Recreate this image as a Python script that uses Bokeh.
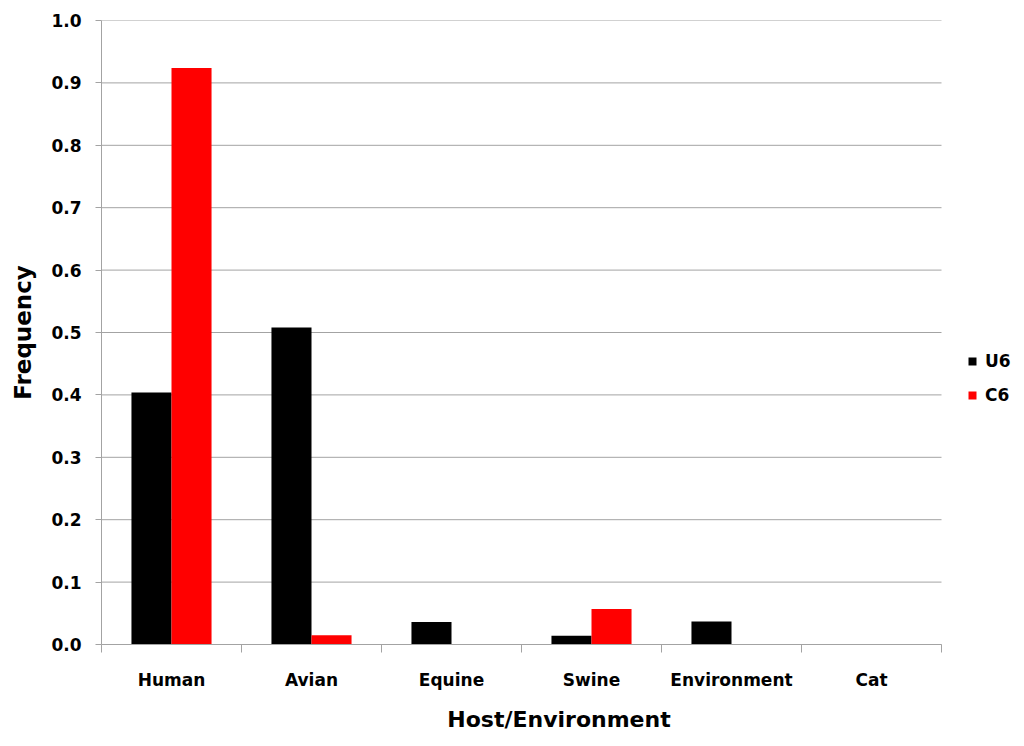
from bokeh.plotting import figure
from bokeh.models import (Range1d, LinearAxis, FixedTicker,
                          PrintfTickFormatter, Legend, LegendItem, ColumnDataSource, CustomJSTickFormatter)
from bokeh.transform import dodge
from bokeh.embed import file_html
from bokeh.resources import INLINE

categories = ["Human", "Avian", "Equine", "Swine", "Environment", "Cat"]
u6 = [0.404, 0.508, 0.036, 0.014, 0.037, 0.0]
c6 = [0.924, 0.015, 0.0, 0.057, 0.0, 0.0]
y_ticks = [0.0, 0.1, 0.2, 0.3, 0.4, 0.5, 0.6, 0.7, 0.8, 0.9, 1.0]

FONT = "DejaVu Sans"
GRAY = "#a3a3a3"

W, H = 1016, 738
LEFT, TOP, BOTTOM = 101, 20, 94
PX_PER_CAT = 140

n = len(categories)
centers = [i + 0.5 for i in range(n)]
src = ColumnDataSource(dict(x=centers, cat=categories, u6=u6, c6=c6))
grid_src = ColumnDataSource(dict(y=y_ticks, x0=[0] * len(y_ticks), x1=[n] * len(y_ticks)))

p = figure(width=W, height=H, output_backend="svg", toolbar_location=None,
           x_range=Range1d(0, (W - LEFT) / PX_PER_CAT), y_range=Range1d(0, 1.0),
           x_axis_location=None, y_axis_location=None,
           min_border_left=LEFT, min_border_top=TOP, min_border_right=0, min_border_bottom=BOTTOM)
p.outline_line_color = None
p.background_fill_color = "white"
p.border_fill_color = "white"
p.xgrid.grid_line_color = None
p.ygrid.grid_line_color = None

# horizontal gridlines limited to the category span
p.segment(x0="x0", x1="x1", y0="y", y1="y", source=grid_src, line_color=GRAY, line_width=1)

r1 = p.vbar(x=dodge("x", -0.143), top="u6", width=0.286, source=src,
            fill_color="black", line_color=None)
r2 = p.vbar(x=dodge("x", 0.143), top="c6", width=0.286, source=src,
            fill_color="#ff0000", line_color=None)

# y axis
yax = LinearAxis(ticker=FixedTicker(ticks=y_ticks), formatter=PrintfTickFormatter(format="%.1f"))
yax.axis_label = "Frequency"
yax.axis_label_text_font = FONT
yax.axis_label_text_font_style = "bold"
yax.axis_label_text_font_size = "23px"
yax.axis_label_text_color = "black"
yax.axis_label_standoff = 12
yax.major_label_text_font = FONT
yax.major_label_text_font_style = "bold"
yax.major_label_text_font_size = "17px"
yax.major_label_text_color = "black"
yax.major_label_standoff = 14
yax.major_tick_out = 6
yax.major_tick_in = 0
yax.minor_tick_line_color = None
yax.axis_line_color = GRAY
yax.major_tick_line_color = GRAY
p.add_layout(yax, "left")

# x axis with boundary ticks
edge_ax = LinearAxis(ticker=FixedTicker(ticks=list(range(n + 1))),
                     formatter=CustomJSTickFormatter(code="return ''"), bounds=(0, n))
edge_ax.major_label_text_font_size = "1px"
edge_ax.major_label_standoff = 0
edge_ax.major_tick_out = 8
edge_ax.major_tick_in = 0
edge_ax.minor_tick_line_color = None
edge_ax.axis_line_color = GRAY
edge_ax.major_tick_line_color = GRAY
p.add_layout(edge_ax, "below")

cax = LinearAxis(ticker=FixedTicker(ticks=centers), bounds=(0, n),
                 major_label_overrides={c: name for c, name in zip(centers, categories)})
cax.axis_line_color = None
cax.major_tick_line_color = None
cax.minor_tick_line_color = None
cax.major_tick_out = 0
cax.major_tick_in = 0
cax.major_label_standoff = 17
cax.major_label_text_font = FONT
cax.major_label_text_font_style = "bold"
cax.major_label_text_font_size = "17px"
cax.major_label_text_color = "black"
cax.axis_label = "Host/Environment"
cax.axis_label_text_font = FONT
cax.axis_label_text_font_style = "bold"
cax.axis_label_text_font_size = "22px"
cax.axis_label_text_color = "black"
cax.axis_label_standoff = 14
p.add_layout(cax, "below")

legend = Legend(items=[LegendItem(label="U6", renderers=[r1]), LegendItem(label="C6", renderers=[r2])],
                location=(866, 239))
legend.margin = 0
legend.padding = 0
legend.border_line_color = None
legend.background_fill_alpha = 0
legend.glyph_width = 10
legend.glyph_height = 10
legend.label_height = 20
legend.spacing = 14
legend.label_standoff = 8
legend.label_text_font = FONT
legend.label_text_font_style = "bold"
legend.label_text_font_size = "17px"
legend.label_text_color = "black"
p.add_layout(legend, "center")

open("out.html", "w").write(file_html(p, INLINE))
